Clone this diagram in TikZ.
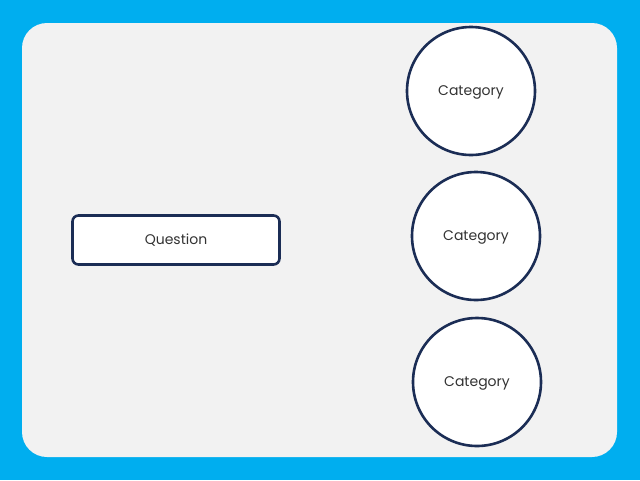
\documentclass[tikz,border=0pt]{standalone}
\usepackage{fontspec}
\setmainfont{Poppins}
\definecolor{bgblue}{HTML}{00AEEF}
\definecolor{panel}{HTML}{F2F2F2}
\definecolor{navy}{HTML}{1B2D55}
\definecolor{txt}{HTML}{333333}
\begin{document}
\begin{tikzpicture}[x=1pt,y=-1pt,
  catnode/.style={circle,draw=navy,line width=2.6pt,fill=white,minimum size=128pt,inner sep=0pt,font=\fontsize{14}{16}\selectfont,text=txt,text height=11pt,text depth=2pt},
  qnode/.style={rectangle,rounded corners=6pt,draw=navy,line width=2.6pt,fill=white,minimum width=207pt,minimum height=49pt,inner sep=0pt,font=\fontsize{14}{16}\selectfont,text=txt,text height=11pt,text depth=2pt}]
\fill[bgblue] (0,0) rectangle (640,480);
\useasboundingbox (0,0) rectangle (640,480);
\fill[panel,rounded corners=25pt] (22,23) rectangle (617,457);
\node[qnode] (q) at (176,240) {Question};
\node[catnode] (c1) at (471,91) {Category};
\node[catnode] (c2) at (476,236) {Category};
\node[catnode] (c3) at (477,382) {Category};
\end{tikzpicture}
\end{document}
